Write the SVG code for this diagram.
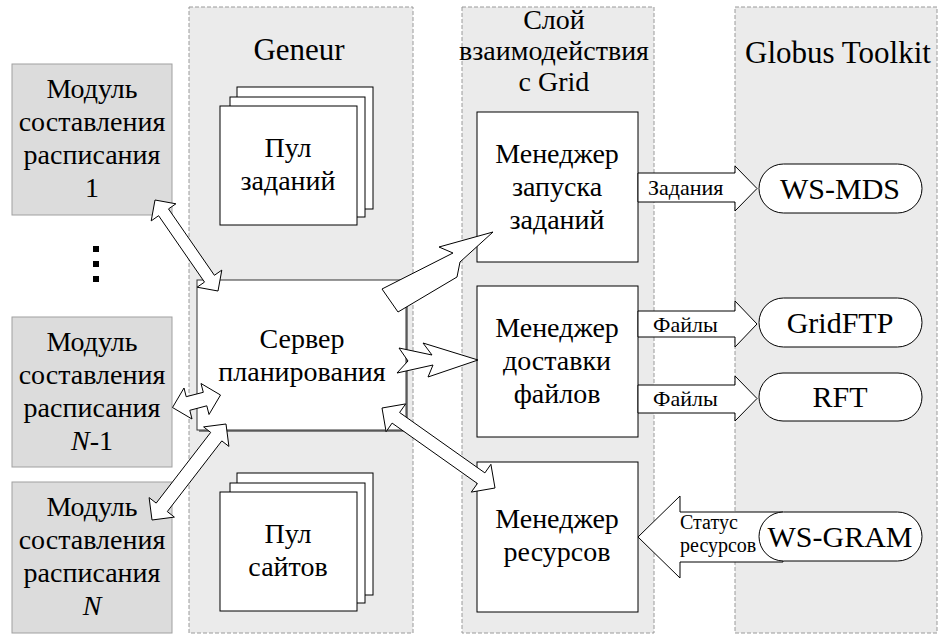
<svg xmlns="http://www.w3.org/2000/svg" width="941" height="635" viewBox="0 0 941 635">
<style>
.panel{fill:#ebebeb;stroke:#9a9a9a;stroke-width:1;stroke-dasharray:4,2}
.mod{fill:#dcdcdc;stroke:#a0a0a0;stroke-width:1}
.box{fill:#fff;stroke:#000;stroke-width:1}
.arr{fill:#fff;stroke:#000;stroke-width:1;stroke-linejoin:miter}
text{fill:#000;text-anchor:middle}
.big{font-size:28px}
.title{font-size:31px}
.lbl{font-size:22px;text-anchor:start}
.lbs{font-size:20px;text-anchor:start}
.st{font-size:30px}
</style>
<rect width="941" height="635" fill="#fff"/>
<g font-family="Liberation Serif, Times New Roman, Tinos, Noto Serif, DejaVu Serif, FreeSerif, serif">
<g id="panel-geneur"><rect class="panel" x="189" y="7" width="224" height="626"/><text class="title" x="299" y="60">Geneur</text></g>
<g id="panel-grid"><rect class="panel" x="462" y="7" width="192" height="626"/>
<text class="big" x="554" y="29">Слой</text><text class="big" x="554" y="60">взаимодействия</text><text class="big" x="554" y="91">с Grid</text></g>
<g id="panel-globus"><rect class="panel" x="735" y="7" width="202" height="626"/><text class="title" x="838" y="63">Globus Toolkit</text></g>

<g id="module1"><rect class="mod" x="12" y="64" width="160" height="151"/>
<text class="big" x="92" y="98">Модуль</text><text class="big" x="92" y="131">составления</text><text class="big" x="92" y="164">расписания</text><text class="big" x="92" y="197">1</text></g>
<g id="dots"><rect x="93" y="246" width="6" height="6"/><rect x="93" y="261" width="6" height="6"/><rect x="93" y="276" width="6" height="6"/></g>
<g id="moduleN-1"><rect class="mod" x="12" y="317" width="160" height="150"/>
<text class="big" x="92" y="351">Модуль</text><text class="big" x="92" y="384">составления</text><text class="big" x="92" y="417">расписания</text><text class="big" x="92" y="450"><tspan font-style="italic">N</tspan>-1</text></g>
<g id="moduleN"><rect class="mod" x="12" y="482" width="160" height="151"/>
<text class="big" x="92" y="516">Модуль</text><text class="big" x="92" y="549">составления</text><text class="big" x="92" y="582">расписания</text><text class="big" x="92" y="615" font-style="italic">N</text></g>

<g id="pool-tasks"><rect class="box" x="237" y="87" width="136" height="122"/><rect class="box" x="230" y="97" width="135" height="120"/><rect class="box" x="220" y="106" width="137" height="119"/>
<text class="big" x="288" y="157">Пул</text><text class="big" x="288" y="190">заданий</text></g>
<g id="pool-sites"><rect class="box" x="237" y="473" width="136" height="122"/><rect class="box" x="230" y="483" width="135" height="120"/><rect class="box" x="220" y="492" width="137" height="119"/>
<text class="big" x="288" y="543">Пул</text><text class="big" x="288" y="576">сайтов</text></g>
<g id="server"><rect x="199" y="282" width="209" height="150" fill="#808080"/><rect x="197" y="280" width="209" height="150" fill="#fff" stroke="#333" stroke-width="1"/>
<text class="big" x="302" y="348">Сервер</text><text class="big" x="302" y="381">планирования</text></g>

<g id="mgr-jobs"><rect class="box" x="477" y="112" width="161" height="150"/>
<text class="big" x="557" y="163">Менеджер</text><text class="big" x="557" y="196">запуска</text><text class="big" x="557" y="229">заданий</text></g>
<g id="mgr-files"><rect class="box" x="477" y="286" width="161" height="151"/>
<text class="big" x="557" y="337">Менеджер</text><text class="big" x="557" y="370">доставки</text><text class="big" x="557" y="403">файлов</text></g>
<g id="mgr-res"><rect class="box" x="477" y="462" width="161" height="150"/>
<text class="big" x="557" y="528">Менеджер</text><text class="big" x="557" y="561">ресурсов</text></g>

<g id="connectors">
<polygon class="arr" points="155,200 151.2,220.9 158.6,215.7 204.5,282.1 197.1,287.2 218,291 221.8,270.1 214.4,275.3 168.5,208.9 175.9,203.8"/>
<polygon class="arr" points="172.5,407.5 192,419 189.8,410.3 206.8,405.8 209,414.5 220.5,395 201,383.5 203.3,392.3 186.2,396.7 184,388"/>
<polygon class="arr" points="152,520 174.4,517.1 167.3,511.6 221.8,440.9 228.9,446.4 226,424 203.6,426.9 210.7,432.4 156.2,503.1 149.1,497.6"/>
<polygon class="arr" points="382,408 386.1,431.7 392.1,423.1 477.4,483.5 471.3,492.1 495,488 490.9,464.3 484.9,472.9 399.6,412.5 405.7,403.9"/>
<polygon class="arr" points="493,232 439,247 453,253 382,289 398,312 457,277 460,262"/>
<polygon class="arr" points="478,360 423,343 432,355 399,348 408,361 397,373 433,365 428,377"/>
<polygon class="arr" points="638,173 735,173 735,166 757,188.5 735,211 735,202 638,202"/>
<polygon class="arr" points="638,311 735,311 735,301 757,324 735,347 735,337 638,337"/>
<polygon class="arr" points="638,385 735,385 735,376 757,398.5 735,421 735,413 638,413"/>
<polygon class="arr" points="638,537 680,496 680,512 783,512 783,562 680,562 680,578"/>
</g>

<g id="ws-mds"><rect class="box" x="759" y="164" width="163" height="49" rx="24.5"/><text class="st" x="840" y="199">WS-MDS</text></g>
<g id="gridftp"><rect class="box" x="759" y="298" width="163" height="49" rx="24.5"/><text class="st" x="840" y="333">GridFTP</text></g>
<g id="rft"><rect class="box" x="759" y="373" width="163" height="48" rx="24"/><text class="st" x="840" y="407">RFT</text></g>
<g id="ws-gram"><rect class="box" x="759" y="512" width="163" height="49" rx="24.5"/><text class="st" x="840" y="547">WS-GRAM</text></g>

<g id="labels">
<text class="lbl" x="648" y="195">Задания</text>
<text class="lbl" x="653" y="332">Файлы</text>
<text class="lbl" x="653" y="406">Файлы</text>
<text class="lbs" x="680" y="529">Статус</text>
<text class="lbs" x="680" y="552">ресурсов</text>
</g>
</g>
</svg>
